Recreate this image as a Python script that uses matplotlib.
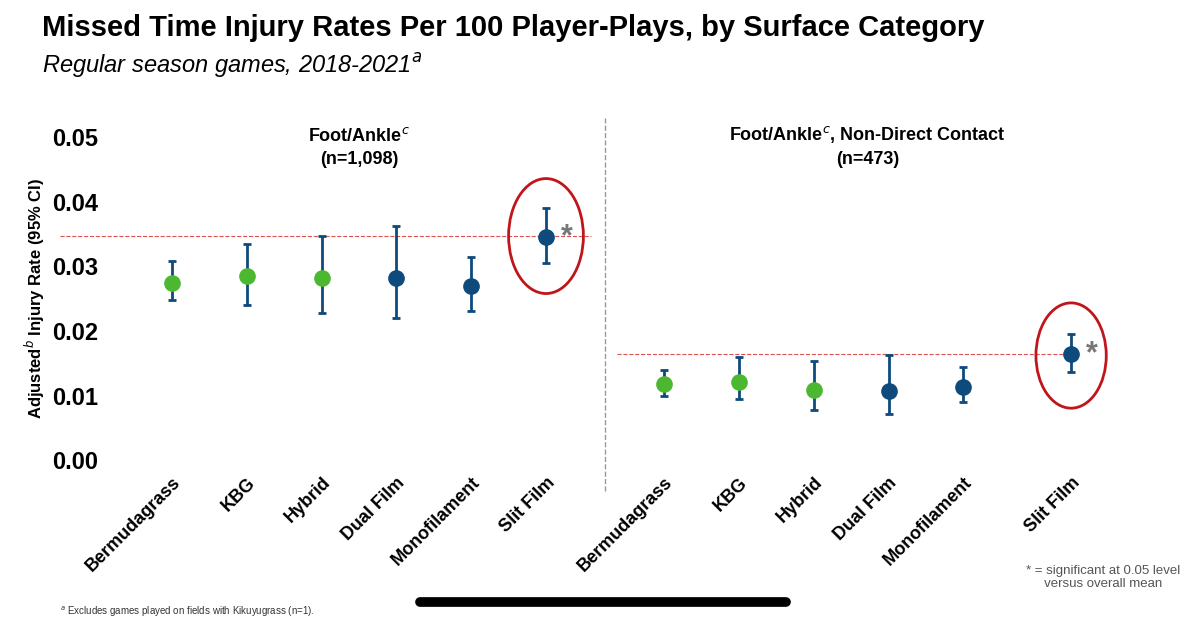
import matplotlib.pyplot as plt
from matplotlib.patches import Ellipse
from matplotlib.lines import Line2D

plt.rcParams["font.family"] = ["Liberation Sans", "DejaVu Sans"]

categories = ["Bermudagrass", "KBG", "Hybrid", "Dual Film", "Monofilament", "Slit Film"]
colors = ["#4cb832", "#4cb832", "#4cb832", "#0e4a7c", "#0e4a7c", "#0e4a7c"]

left_rate = [0.0274, 0.0285, 0.0282, 0.0282, 0.0269, 0.0345]
left_lo = [0.0248, 0.0240, 0.0228, 0.0220, 0.0231, 0.0306]
left_hi = [0.0308, 0.0334, 0.0347, 0.0362, 0.0314, 0.0390]
left_mean = 0.0347

right_rate = [0.0118, 0.0121, 0.0108, 0.0107, 0.0113, 0.0164]
right_lo = [0.0099, 0.0094, 0.0077, 0.0071, 0.0090, 0.0136]
right_hi = [0.0139, 0.0159, 0.0153, 0.0163, 0.0144, 0.0195]
right_mean = 0.0164

left_x = [0, 1, 2, 3, 4, 5]
right_x = [6.58, 7.58, 8.58, 9.58, 10.58, 12.02]

fig = plt.figure(figsize=(12, 6.21), dpi=100)
ax = fig.add_axes([0.125, 0.259, 0.80, 0.52])
ax.set_xlim(-0.294, 12.54)
ax.set_ylim(0, 0.05)

for xs, rate, lo, hi in [(left_x, left_rate, left_lo, left_hi),
                         (right_x, right_rate, right_lo, right_hi)]:
    for x, r, l, h, c in zip(xs, rate, lo, hi, colors):
        ax.errorbar(x, r, yerr=[[r - l], [h - r]], fmt="none", ecolor="#0e4a7c",
                    elinewidth=2, capsize=3, capthick=2, zorder=2)
        ax.plot(x, r, "o", color=c, markersize=11, zorder=3)

ax.plot([-1.5, 5.6], [left_mean, left_mean], ls="--", color="#d9534f", lw=0.8,
        zorder=1, clip_on=False)
ax.plot([5.95, 12.1], [right_mean, right_mean], ls="--", color="#d9534f", lw=0.8, zorder=1)
ax.add_patch(Ellipse((5.0, 0.0347), 1.0, 0.0178, fill=False, ec="#c0161b", lw=2))
ax.add_patch(Ellipse((12.02, 0.0162), 0.94, 0.0163, fill=False, ec="#c0161b", lw=2))
ax.text(5.2, 0.0345, "*", fontsize=22, color="#777777", va="center", fontweight="bold")
ax.text(12.22, 0.0164, "*", fontsize=22, color="#777777", va="center", fontweight="bold")

ax.set_xticks(left_x + right_x)
ax.set_xticklabels(categories + categories, rotation=45, ha="right",
                   rotation_mode="anchor", fontsize=13, fontweight="bold")
ax.tick_params(axis="x", length=0, pad=10)
ax.set_yticks([0, 0.01, 0.02, 0.03, 0.04, 0.05])
ax.set_yticklabels(["0.00", "0.01", "0.02", "0.03", "0.04", "0.05"], fontsize=17, fontweight="bold")
ax.tick_params(axis="y", length=0, pad=37)
for s in ax.spines.values():
    s.set_visible(False)
ax.set_ylabel("Adjusted$^{b}$ Injury Rate (95% CI)", fontsize=12, fontweight="bold", labelpad=4)

ax.text(2.5, 0.0453, "Foot/Ankle$^{c}$\n(n=1,098)", ha="center", va="bottom",
        fontsize=13, fontweight="bold", linespacing=1.4)
ax.text(9.3, 0.0453, "Foot/Ankle$^{c}$, Non-Direct Contact\n(n=473)", ha="center", va="bottom",
        fontsize=13, fontweight="bold", linespacing=1.4)

fig.add_artist(Line2D([0.504, 0.504], [0.21, 0.81], ls="--", color="#999999", lw=1))
fig.text(0.035, 0.955, "Missed Time Injury Rates Per 100 Player-Plays, by Surface Category",
         fontsize=21, fontweight="bold", va="center")
fig.text(0.035, 0.895, "Regular season games, 2018-2021$^{a}$", fontsize=17, style="italic", va="center")
fig.text(0.855, 0.07, "* = significant at 0.05 level\n     versus overall mean", fontsize=9.5,
         color="#555555", va="center")
fig.text(0.05, 0.01, "$^{a}$ Excludes games played on fields with Kikuyugrass (n=1).", fontsize=7,
         color="#333333")
fig.add_artist(Line2D([0.35, 0.655], [0.03, 0.03], color="black", lw=7, solid_capstyle="round"))

fig.savefig("out.png")
